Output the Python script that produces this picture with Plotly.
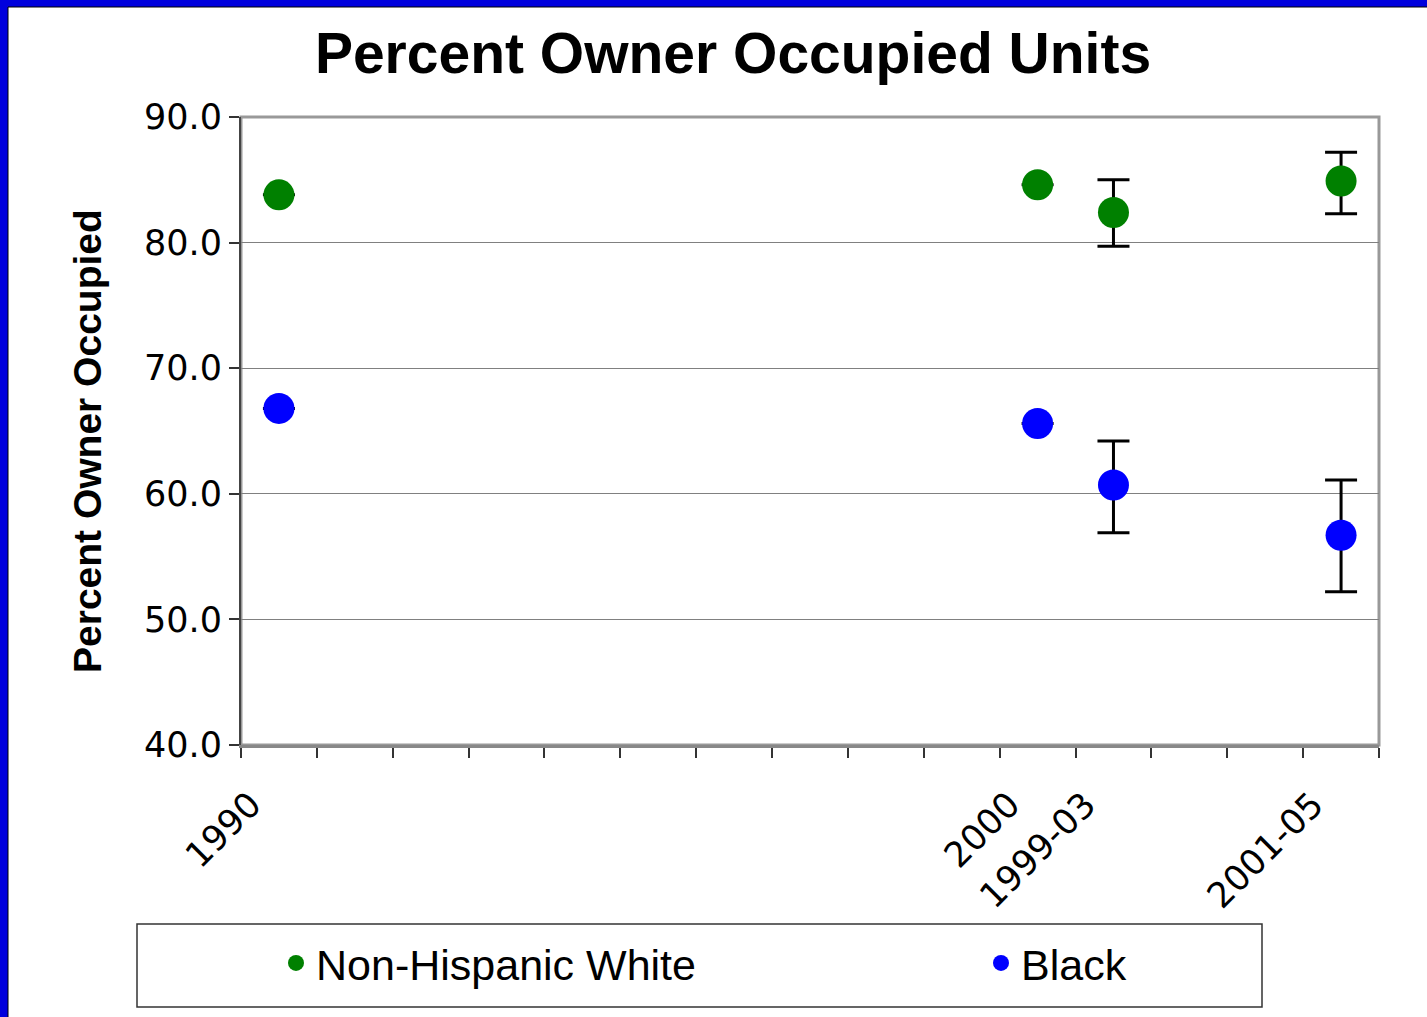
import math
import plotly.graph_objects as go

# ---------------- data ----------------
periods = ["1990", "2000", "1999-03", "2001-05"]
axis_slot = [0, 10, 11, 14]          # slot of each period on the 15-slot category axis
n_slots = 15

white = [83.8, 84.6, 82.4, 84.9]
white_lo = [None, None, 79.7, 82.3]
white_hi = [None, None, 85.0, 87.2]

black = [66.8, 65.6, 60.7, 56.7]
black_lo = [None, None, 56.9, 52.2]
black_hi = [None, None, 64.2, 61.1]

y_ticks = [40, 50, 60, 70, 80, 90]

# ---------------- helpers ----------------
W, H = 1427, 1017
L, R, T, B = 241, 1379, 117, 745


def px(x):
    return (x - L) / (R - L)


def py(y):
    return (B - y) / (B - T)


def err_plus(v, hi):
    return [h - a if h is not None else math.nan for a, h in zip(v, hi)]


def err_minus(v, lo):
    return [a - l if l is not None else math.nan for a, l in zip(v, lo)]


x_pos = [s + 0.5 for s in axis_slot]

fig = go.Figure()

for name, vals, lo, hi, color, leg in [
    ("Non-Hispanic White", white, white_lo, white_hi, "#008000", "legend"),
    ("Black", black, black_lo, black_hi, "#0000FF", "legend2"),
]:
    fig.add_trace(go.Scatter(
        x=x_pos, y=vals, mode="markers", name=name, legend=leg,
        marker=dict(color=color, size=31, line=dict(width=0)),
        error_y=dict(type="data", symmetric=False,
                     array=err_plus(vals, hi), arrayminus=err_minus(vals, lo),
                     color="black", thickness=3, width=16),
    ))

shapes = [
    # plot frame (gray)
    dict(type="rect", xref="paper", yref="paper", x0=0, x1=1, y0=0, y1=1,
         line=dict(color="#999999", width=3), layer="below"),
    # legend box
    dict(type="rect", xref="paper", yref="paper", x0=px(137), x1=px(1262),
         y0=py(1007), y1=py(924), line=dict(color="#333333", width=1.5)),
    # blue slide border (left and top)
    dict(type="rect", xref="paper", yref="paper", x0=px(0), x1=px(8),
         y0=py(H), y1=py(0), fillcolor="#0000DD", line=dict(width=0)),
    dict(type="rect", xref="paper", yref="paper", x0=px(0), x1=px(W),
         y0=py(7), y1=py(0), fillcolor="#0000DD", line=dict(width=0)),
    dict(type="line", xref="paper", yref="paper", x0=px(8), x1=px(8),
         y0=py(H), y1=py(7), line=dict(color="black", width=1)),
    dict(type="line", xref="paper", yref="paper", x0=px(8), x1=px(W),
         y0=py(7), y1=py(7), line=dict(color="black", width=1)),
]

legend_font = dict(family="Liberation Sans, Arial, sans-serif", size=43, color="black")

fig.update_layout(
    width=W, height=H,
    margin=dict(l=L, r=W - R, t=T, b=H - B, autoexpand=False),
    paper_bgcolor="white", plot_bgcolor="white",
    title=dict(text="<b>Percent Owner Occupied Units</b>",
               font=dict(family="Liberation Sans, Arial, sans-serif", size=57, color="black"),
               x=733 / W, xanchor="center", y=1 - 53 / H, yanchor="middle"),
    showlegend=True,
    legend=dict(orientation="h", x=px(276), xanchor="left", y=py(963), yanchor="middle",
                font=legend_font, bgcolor="rgba(0,0,0,0)", borderwidth=0, itemsizing="trace"),
    legend2=dict(orientation="h", x=px(981), xanchor="left", y=py(963), yanchor="middle",
                 font=legend_font, bgcolor="rgba(0,0,0,0)", borderwidth=0, itemsizing="trace"),
    shapes=shapes,
    annotations=[dict(text="<b>Percent Owner Occupied</b>", xref="paper", yref="paper",
                      x=px(87), y=py(441), xanchor="center", yanchor="middle",
                      textangle=-90, showarrow=False,
                      font=dict(family="Liberation Sans, Arial, sans-serif", size=39, color="black"))],
)

fig.update_xaxes(
    range=[0, n_slots], showgrid=False, zeroline=False,
    tickmode="array", tickvals=x_pos, ticktext=periods, ticks="", tickangle=-45,
    ticklabelshift=-28, ticklabelstandoff=22,
    tickfont=dict(family="DejaVu Sans, Verdana, sans-serif", size=35, color="black"),
    showline=True, linecolor="#888888", linewidth=3,
    minor=dict(tickmode="linear", tick0=0, dtick=1, ticks="outside", ticklen=10,
               tickcolor="#333333", tickwidth=1.5, showgrid=False),
)

fig.update_yaxes(
    range=[40, 90], tickmode="array", tickvals=y_ticks, tickformat=".1f",
    ticks="outside", ticklen=10, tickcolor="#333333", tickwidth=1.5,
    tickfont=dict(family="DejaVu Sans, Verdana, sans-serif", size=35, color="black"),
    showgrid=True, gridcolor="#808080", gridwidth=1, zeroline=False,
    showline=True, linecolor="#444444", linewidth=2,
)

fig.write_html("out.html", config={"displayModeBar": False},
               post_script="document.body.style.margin='0';document.body.style.overflow='hidden';")
